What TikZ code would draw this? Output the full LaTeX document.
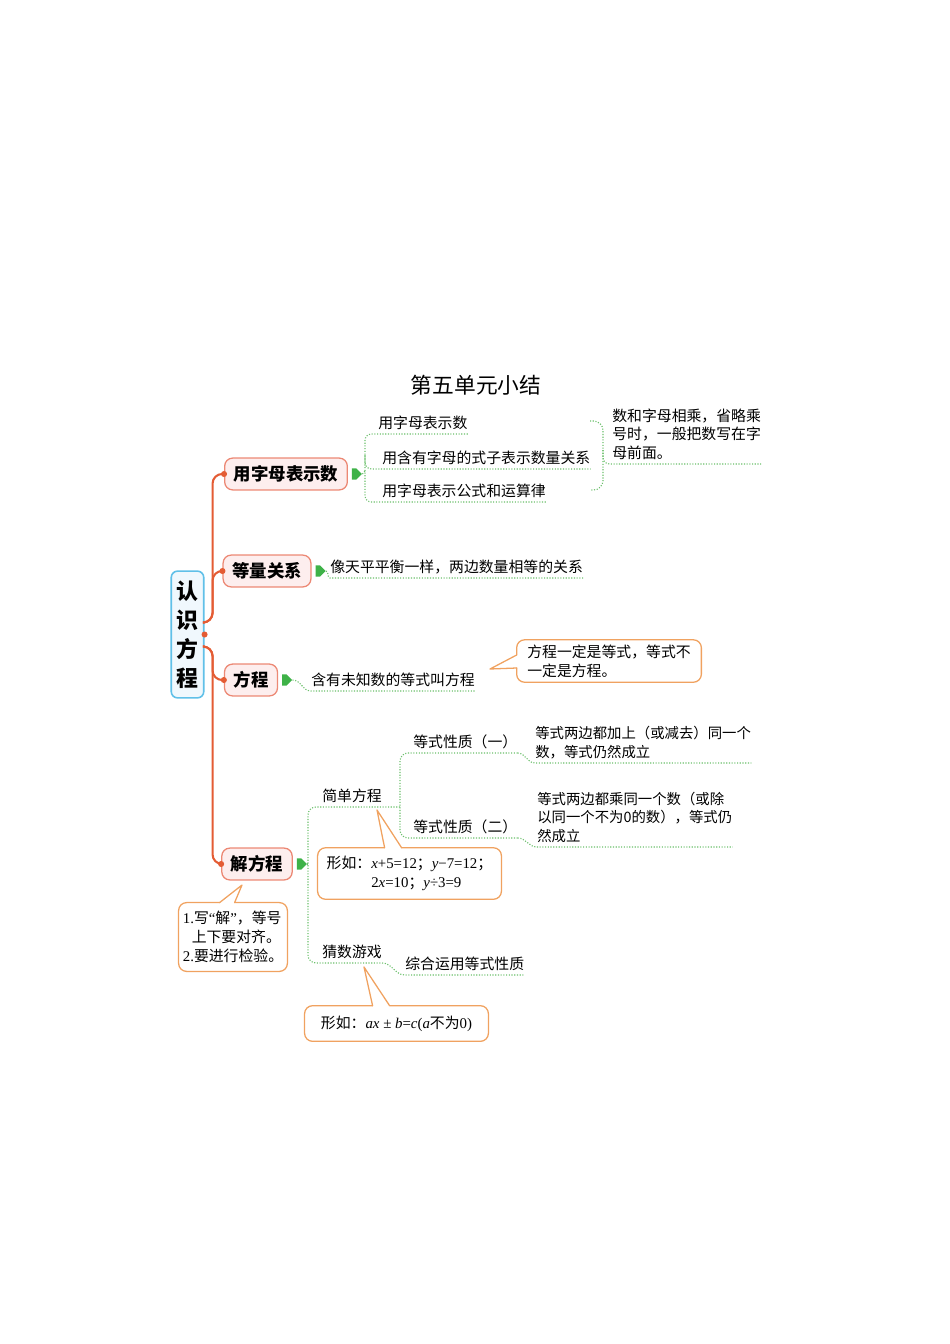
\documentclass[tikz,border=0pt]{standalone}
\usepackage{fontspec}
\setmainfont{Noto Sans CJK SC}
\newfontfamily\tms{Liberation Serif}
\usepackage{tikz}
\usetikzlibrary{positioning,shapes.symbols,calc}
\definecolor{linered}{RGB}{228,92,52}
\definecolor{boxred}{RGB}{236,136,116}
\definecolor{boxpink}{RGB}{253,238,238}
\definecolor{rootblue}{RGB}{96,192,232}
\definecolor{rootfill}{RGB}{240,248,253}
\definecolor{arrowgreen}{RGB}{62,178,72}
\definecolor{dotgreen}{RGB}{108,192,108}
\definecolor{calloutorange}{RGB}{240,162,96}

\begin{document}
\begin{tikzpicture}[x=0.022cm, y=-0.022cm,
    topic/.style={rectangle, rounded corners=5pt, draw=boxred, fill=boxpink, line width=0.8pt,
                  font=\fontsize{10.9pt}{13pt}\selectfont\bfseries, inner xsep=0.2cm, minimum height=0.7cm},
    rootbox/.style={rectangle, rounded corners=4pt, draw=rootblue, fill=rootfill, line width=1pt,
                  align=center, minimum width=0.68cm, minimum height=2.79cm,
                  font=\fontsize{13.7pt}{18.2pt}\selectfont\bfseries},
    garrow/.style={shape=signal, signal to=east, fill=arrowgreen, minimum width=0.22cm,
                  minimum height=0.25cm, inner sep=0pt},
    txt/.style={anchor=south west, inner xsep=0pt, inner ysep=0.09cm, align=left,
                font=\fontsize{9.3pt}{11.6pt}\selectfont},
    note/.style={txt, font=\fontsize{9pt}{11.6pt}\selectfont},
    tipbox/.style={align=left, inner sep=0pt, font=\fontsize{9.3pt}{12pt}\selectfont},
    gdot/.style={dotgreen, densely dotted, line width=0.7pt},
    redl/.style={linered, line width=1.3pt, rounded corners=6pt},
    callout/.style={calloutorange, line width=0.8pt, line join=round, line cap=round}]
\useasboundingbox (0,0) rectangle (950,1344);

\node[font=\fontsize{13.6pt}{16pt}\selectfont] (title) at (476,385) {第五单元小结};

% root and topics
\node[rootbox] (root) at (187.5,634.5) {认\\识\\方\\程};
\node[topic] (yz) at (286,474) {用字母表示数};
\node[topic] (dl) at (267,571) {等量关系};
\node[topic] (fc) at (251,680) {方程};
\node[topic] (jfc) at (257,864) {解方程};

\coordinate (spT) at ($(root.east)+(0,-12)$);
\coordinate (spB) at ($(root.east)+(0,12)$);
\draw[redl] (spT) -- ++(8,0) |- (yz.west);
\draw[redl] (spT) -- ++(8,0) |- (dl.west);
\draw[redl] (spB) -- ++(8,0) |- (fc.west);
\draw[redl] (spB) -- ++(8,0) |- (jfc.west);
\foreach \n in {root.east, yz.west, dl.west, fc.west, jfc.west}
  \fill[linered] (\n) circle (1.9pt);

\node[garrow, right=0.08cm of yz] (yzA) {};
\node[garrow, right=0.08cm of dl] (dlA) {};
\node[garrow, right=0.08cm of fc] (fcA) {};
\node[garrow, right=0.08cm of jfc] (jfcA) {};

% 用字母表示数
\coordinate (yzB) at (365,471);
\node[txt] (yz1) at (378,434) {用字母表示数};
\node[txt] (yz2) at (382,469) {用含有字母的式子表示数量关系};
\node[txt] (yz3) at (382,502) {用字母表示公式和运算律};
\draw[gdot] (yzA.east) -- (yzB);
\draw[gdot, rounded corners=4pt] (yz1.south east) -- (yz1.south east -| yzB) -- (yz3.south west -| yzB) -- (yz3.south east);
\draw[gdot, rounded corners=4pt] (yz2.south west -| yzB) ++(0,-14) |- (yz2.south east);
\node[txt] (yz4) at (612,464) {数和字母相乘，省略乘\\号时，一般把数写在字\\母前面。};
\draw[gdot, rounded corners=6pt] (590,421) -- (603,421) -- (603,490) -- (590,490);
\draw[gdot, rounded corners=4pt] (603,450) |- (yz4.south east);

% 等量关系
\node[txt] (dl1) at (330,578) {像天平平衡一样，两边数量相等的关系};
\draw[gdot] (dlA.east) to[out=0, in=180] (dl1.south west) -- (dl1.south east);

% 方程
\node[txt] (fc1) at (311,691) {含有未知数的等式叫方程};
\draw[gdot] (fcA.east) to[out=0, in=180] (fc1.south west) -- (fc1.south east);
\node[tipbox, minimum width=4.05cm, minimum height=0.92cm] (fc2) at (609,661)
  {方程一定是等式，等式不\\一定是方程。};
\draw[callout, rounded corners=5pt] ($(fc2.west)+(0,-6)$) -- (fc2.north west) -- (fc2.north east)
  -- (fc2.south east) -- (fc2.south west) -- ($(fc2.west)+(0,7)$);
\draw[callout] ($(fc2.west)+(0,7)$) -- (490,669) -- ($(fc2.west)+(0,-6)$);

% 解方程
\coordinate (jB) at (308,864);
\coordinate (xq) at (400,795);
\node[txt] (jd) at (322,807) {简单方程};
\node[txt] (cs) at (322,963) {猜数游戏};
\draw[gdot] (jfcA.east) -- (jB);
\draw[gdot, rounded corners=5pt] (jd.south west -| xq) -- (jd.south west -| jB) -- (cs.south west -| jB) -- (cs.south east);
\node[txt] (xq1) at (413,753) {等式性质（一）};
\node[txt] (xq2) at (413,838) {等式性质（二）};
\draw[gdot, rounded corners=5pt] (xq1.south east) -- (xq1.south west -| xq) -- (xq2.south west -| xq) -- (xq2.south east);
\node[note] (e1) at (535,763) {等式两边都加上（或减去）同一个\\数，等式仍然成立};
\node[note] (e2) at (537,847) {等式两边都乘同一个数（或除\\以同一个不为0的数），等式仍\\然成立};
\draw[gdot] (xq1.south east) to[out=0, in=180] (e1.south west) -- (e1.south east);
\draw[gdot] (xq2.south east) to[out=0, in=180] (e2.south west) -- (e2.south east);
\node[txt] (cs2) at (405,975) {综合运用等式性质};
\draw[gdot] (cs.south east) to[out=0, in=180] (cs2.south west) -- (cs2.south east);

% callouts
\node[tipbox, minimum width=4.03cm, minimum height=1.12cm] (jd2) at (409.5,873.5)
  {形如：{\tms\textit{x}+5=12}；{\tms\textit{y}−7=12}；\\\hphantom{形如：}{\tms 2\textit{x}=10}；{\tms\textit{y}÷3=9}};
\draw[callout, rounded corners=5pt] ($(jd2.north west)+(84,0)$) -- (jd2.north east) -- (jd2.south east)
  -- (jd2.south west) -- (jd2.north west) -- ($(jd2.north west)+(67,0)$);
\draw[callout] ($(jd2.north west)+(67,0)$) -- (377,810) -- ($(jd2.north west)+(84,0)$);

\node[tipbox, minimum width=4.03cm, minimum height=0.77cm] (cs3) at (396.5,1023.5)
  {形如：{\tms\textit{ax} ± \textit{b}=\textit{c}(\textit{a}}不为{\tms 0)}};
\draw[callout, rounded corners=5pt] ($(cs3.north west)+(85,0)$) -- (cs3.north east) -- (cs3.south east)
  -- (cs3.south west) -- (cs3.north west) -- ($(cs3.north west)+(68,0)$);
\draw[callout] ($(cs3.north west)+(68,0)$) -- (364,967) -- ($(cs3.north west)+(85,0)$);

\node[tipbox, minimum width=2.38cm, minimum height=1.5cm] (jfc2) at (233,937)
  {{\tms 1.}写{\tms “}解{\tms ”}，等号\\\hspace*{0.6em}上下要对齐。\\{\tms 2.}要进行检验。};
\draw[callout, rounded corners=5pt] ($(jfc2.north west)+(56,0)$) -- (jfc2.north east) -- (jfc2.south east)
  -- (jfc2.south west) -- (jfc2.north west) -- ($(jfc2.north west)+(41,0)$);
\draw[callout] ($(jfc2.north west)+(41,0)$) -- (242,885) -- ($(jfc2.north west)+(56,0)$);
\end{tikzpicture}
\end{document}
